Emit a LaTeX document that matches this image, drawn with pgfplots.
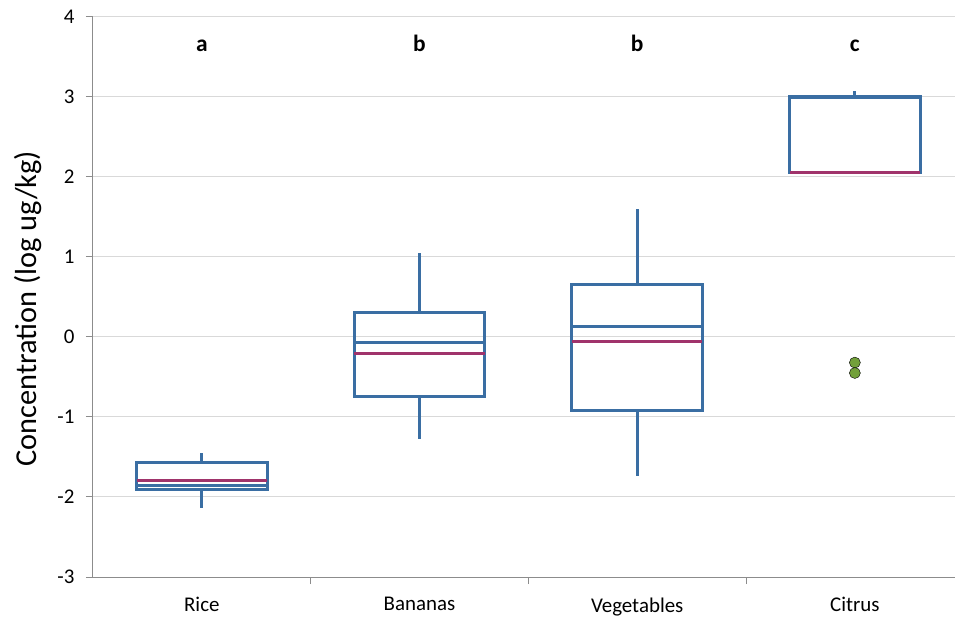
\documentclass[border=0pt]{standalone}
\usepackage{pgfplots}
\pgfplotsset{compat=1.18}
\usepgfplotslibrary{statistics}
\usepackage{fontspec}
\setmainfont{Carlito}
\definecolor{boxblue}{HTML}{3A6EA3}
\definecolor{meanred}{HTML}{A0336B}
\definecolor{outgreen}{HTML}{72A03A}
\definecolor{gridgray}{HTML}{D9D9D9}
\definecolor{axisgray}{HTML}{8C8C8C}

\begin{document}
\begin{tikzpicture}
\useasboundingbox (-93bp,-42bp) rectangle (862bp,577bp);
\begin{axis}[
  at={(0,0)}, anchor=south west,
  scale only axis, width=862bp, height=560bp,
  xmin=-0.5, xmax=3.46, ymin=-3, ymax=4,
  axis x line*=bottom, axis y line*=left,
  axis line style={draw=axisgray, line width=1bp, -},
  tick align=outside, major tick length=7bp,
  tick style={draw=axisgray, line width=1bp},
  ytick={-3,-2,-1,0,1,2,3,4},
  ymajorgrids, major grid style={draw=gridgray, line width=1bp},
  xtick={0.5,1.5,2.5}, xticklabels={},
  extra x ticks={0,1,2,3},
  extra x tick labels={Rice,Bananas,Vegetables,Citrus},
  extra x tick style={major tick length=0pt, grid=none},
  ticklabel style={font=\fontsize{21}{25}\selectfont, text=black},
  xticklabel style={yshift=-17bp},
  yticklabel style={xshift=-8bp},
  /pgf/number format/assume math mode=true,
  ylabel={Concentration (log ug/kg)},
  ylabel style={font=\fontsize{30.5}{36}\selectfont, at={(axis description cs:-0.0754,0.479)}, anchor=center},
  boxplot/draw direction=y,
  boxplot/every box/.style={draw=boxblue, line width=3bp},
  boxplot/every median/.style={draw=boxblue, line width=3bp},
  boxplot/every whisker/.style={draw=boxblue, line width=3bp},
  clip=true,
]
% Rice
\addplot[boxplot prepared={draw position=0, lower whisker=-2.14, lower quartile=-1.91,
  median=-1.854, upper quartile=-1.571, upper whisker=-1.446, box extend=0.6, whisker extend=0},
  draw=boxblue, line width=3bp] coordinates {};
% Bananas
\addplot[boxplot prepared={draw position=1, lower whisker=-1.28, lower quartile=-0.75,
  median=-0.07, upper quartile=0.30, upper whisker=1.054, box extend=0.6, whisker extend=0},
  draw=boxblue, line width=3bp] coordinates {};
% Vegetables
\addplot[boxplot prepared={draw position=2, lower whisker=-1.74, lower quartile=-0.925,
  median=0.125, upper quartile=0.66, upper whisker=1.60, box extend=0.6, whisker extend=0},
  draw=boxblue, line width=3bp] coordinates {};
% Citrus
\addplot[boxplot prepared={draw position=3, lower whisker=2.06, lower quartile=2.06,
  median=2.99, upper quartile=3.0, upper whisker=3.075, box extend=0.6, whisker extend=0},
  draw=boxblue, line width=3bp] coordinates {};
% second line in each box
\addplot[meanred, line width=3bp] coordinates {(-0.3,-1.79) (0.3,-1.79)};
\addplot[meanred, line width=3bp] coordinates {(0.7,-0.21) (1.3,-0.21)};
\addplot[meanred, line width=3bp] coordinates {(1.7,-0.06) (2.3,-0.06)};
\addplot[meanred, line width=3bp] coordinates {(2.7,2.06) (3.3,2.06)};
% outliers
\addplot[only marks, mark=*, mark size=5.5bp, mark options={fill=outgreen, draw=none}]
  coordinates {(3,-0.32) (3,-0.45)};
% group letters
\node[anchor=base, font=\fontsize{23.5}{28}\selectfont\bfseries] at (axis cs:0,3.5625) {a};
\node[anchor=base, font=\fontsize{23.5}{28}\selectfont\bfseries] at (axis cs:1,3.5625) {b};
\node[anchor=base, font=\fontsize{23.5}{28}\selectfont\bfseries] at (axis cs:2,3.5625) {b};
\node[anchor=base, font=\fontsize{23.5}{28}\selectfont\bfseries] at (axis cs:3,3.5625) {c};
\end{axis}
\end{tikzpicture}
\end{document}
